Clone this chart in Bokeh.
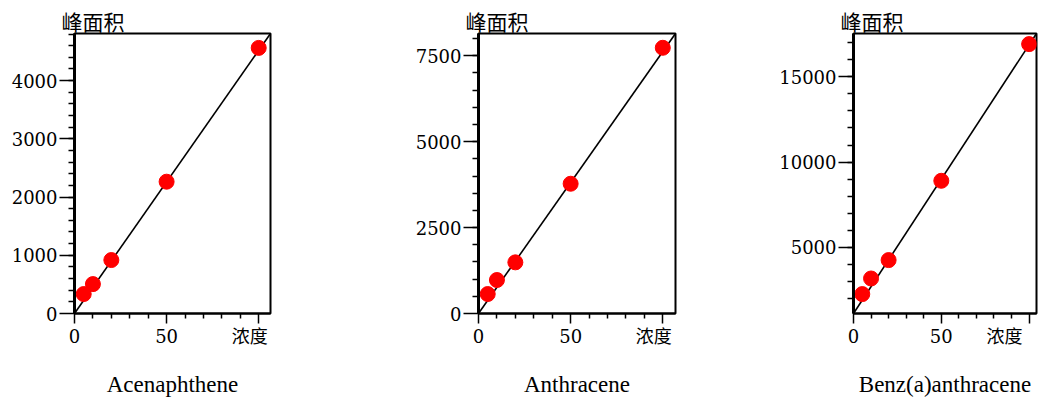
from bokeh.plotting import figure
from bokeh.layouts import row
from bokeh.models import FixedTicker, Range1d
from bokeh.embed import file_html
from bokeh.resources import INLINE

# ---- data ----
names = ["Acenaphthene", "Anthracene", "Benz(a)anthracene"]
conc = [5, 10, 20, 50, 100]
area_ace = [334, 505, 918, 2264, 4562]
area_ant = [566, 974, 1488, 3775, 7730]
area_benz = [2270, 3184, 4262, 8907, 16913]

# fitted calibration lines: slope, intercept, x extent
fit_slope = [45.2, 76.2, 157.4]
fit_intercept = [0, 0, 1133]
fit_xmax = [106.4, 106.9, 104.2]

x_major = [0, 50, 100]
x_minor = [10, 20, 30, 40, 60, 70, 80, 90]
y_major = [[0, 1000, 2000, 3000, 4000],
           [0, 2500, 5000, 7500],
           [5000, 10000, 15000]]
y_minor = [list(range(200, 4801, 200)),
           list(range(500, 8001, 500)),
           list(range(2000, 17001, 1000))]

x_label = "浓度"
y_label = "峰面积"

series = [area_ace, area_ant, area_benz]

# layout (widths / borders in pixels)
widths = [400, 376, 264]
border_left = [74, 78, 76]
border_right = [130, 101, 4]

SERIF = "Liberation Serif"
TICKFONT = "DejaVu Serif, Noto Sans CJK SC"
CJK = "Noto Sans CJK SC"

figs = []
for i in range(3):
    xmax = fit_xmax[i]
    y0 = fit_intercept[i]
    y1 = fit_intercept[i] + fit_slope[i] * xmax
    p = figure(width=widths[i], height=399, output_backend="svg",
               toolbar_location=None, title=y_label,
               x_range=Range1d(0, xmax), y_range=Range1d(y0, y1),
               min_border_left=border_left[i], min_border_right=border_right[i],
               min_border_top=33, min_border_bottom=86)
    p.background_fill_color = "white"
    p.border_fill_color = "white"
    p.outline_line_color = "black"
    p.outline_line_width = 2
    p.xgrid.visible = False
    p.ygrid.visible = False

    p.title.align = "left"
    p.title.offset = -13
    p.title.standoff = -4
    p.title.text_font = CJK
    p.title.text_font_size = "21px"
    p.title.text_font_style = "normal"
    p.title.text_color = "black"

    # fit line
    p.line([0, xmax], [y0, y1], line_color="black", line_width=1.6)
    # points
    p.scatter(conc, series[i], size=15, fill_color="#ff0000",
              line_color="#ff0000", line_width=1)

    xa = p.xaxis[0]
    xa.ticker = FixedTicker(ticks=x_major, minor_ticks=x_minor)
    xa.major_label_overrides = {100: x_label + "\u3000"}
    xa.axis_line_width = 2
    xa.major_tick_line_width = 1.5
    xa.minor_tick_line_width = 1.5
    xa.major_tick_out = 10
    xa.major_tick_in = 0
    xa.minor_tick_out = 5
    xa.minor_tick_in = 0
    xa.major_label_standoff = 2
    xa.major_label_text_font = TICKFONT
    xa.major_label_text_font_size = "18px"
    xa.major_label_text_color = "black"
    xa.axis_label = names[i]
    xa.axis_label_text_font = SERIF
    xa.axis_label_text_font_style = "normal"
    xa.axis_label_text_font_size = "23px"
    xa.axis_label_text_color = "black"
    xa.axis_label_standoff = 22

    ya = p.yaxis[0]
    ya.ticker = FixedTicker(ticks=y_major[i], minor_ticks=y_minor[i])
    ya.axis_line_width = 3
    ya.major_tick_line_width = 1.5
    ya.minor_tick_line_width = 1.5
    ya.major_tick_out = 15
    ya.major_tick_in = 0
    ya.minor_tick_out = 6
    ya.minor_tick_in = 0
    ya.major_label_standoff = 2
    ya.major_label_orientation = "horizontal"
    ya.major_label_text_font = TICKFONT
    ya.major_label_text_font_size = "18px"
    ya.major_label_text_color = "black"
    ya.formatter.use_scientific = False

    figs.append(p)

layout = row(*figs)
open("out.html", "w").write(file_html(layout, INLINE))
